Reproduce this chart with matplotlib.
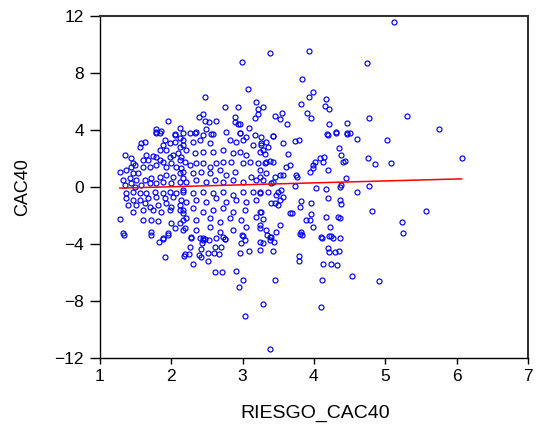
import numpy as np
import matplotlib
matplotlib.use("Agg")
import matplotlib.pyplot as plt

# scatter points: (RIESGO_CAC40, CAC40)
pts_top = [
    (2.48, 6.29), (2.75, 5.64), (1.95, 4.61), (2.45, 5.10), (2.39, 4.89),
    (2.48, 4.63), (2.53, 4.54), (2.63, 4.63), (2.12, 4.14), (1.79, 4.07),
    (1.85, 3.93), (1.78, 3.79), (2.05, 3.74), (2.34, 3.81), (2.49, 4.07),
    (2.58, 3.74), (2.99, 8.80), (3.38, 9.43), (3.93, 9.52), (3.84, 7.60),
    (3.08, 6.85), (3.99, 6.69), (3.93, 6.34), (4.17, 6.18), (3.19, 5.96),
    (3.82, 5.80), (4.15, 5.71), (4.21, 5.45), (2.93, 5.61), (3.21, 5.49),
    (3.28, 5.61), (3.22, 5.12), (3.18, 4.82), (2.89, 4.93), (2.89, 4.58),
    (2.94, 4.44), (2.97, 4.42), (3.46, 4.98), (3.56, 5.17), (3.53, 4.79),
    (3.63, 4.42), (3.90, 5.19), (3.96, 4.82), (4.21, 4.44), (4.46, 4.47),
    (3.09, 4.14), (2.97, 3.77), (3.43, 3.60), (4.19, 3.70), (4.31, 3.84),
    (4.46, 3.79), (4.50, 3.79), (5.13, 11.56), (4.74, 8.68), (4.77, 4.86),
    (5.30, 4.96), (5.76, 4.09),
]
pts_right = [
    (4.60, 3.37), (5.02, 3.27), (6.07, 2.06), (4.76, 2.01), (4.85, 1.59),
    (5.08, 1.68), (4.43, 1.82), (4.45, 0.61), (4.60, -0.33), (4.77, 0.07),
    (4.82, -1.66), (5.57, -1.68), (5.24, -2.46), (5.25, -3.21),
    (4.54, -6.27), (4.91, -6.57),
]
pts_bottom = [
    (3.38, -11.39), (3.04, -9.05), (3.29, -8.21), (4.10, -8.40), (2.95, -7.04),
    (3.00, -6.50), (3.46, -6.50), (4.12, -6.53), (2.91, -5.89), (3.79, -4.82),
    (3.79, -5.19), (4.13, -5.40), (4.24, -5.40), (4.32, -5.47), (4.20, -4.26),
    (4.21, -4.54), (4.30, -4.58), (4.35, -4.49), (2.96, -4.61), (3.09, -4.47),
    (3.25, -4.42), (3.43, -4.51), (2.98, -3.95), (3.04, -3.70), (3.24, -3.86),
    (3.28, -3.93), (3.39, -3.72), (3.40, -3.51), (3.44, -3.86), (3.34, -3.37),
    (2.99, -3.37), (2.76, -3.63), (3.83, -3.37), (4.12, -3.60), (4.21, -3.44),
    (4.27, -3.58), (1.91, -4.89), (2.62, -5.96), (2.71, -5.96), (2.31, -5.38),
    (2.52, -5.21), (2.18, -4.82), (2.19, -4.72), (2.25, -4.68), (2.39, -4.77),
    (2.42, -4.93), (2.51, -4.65), (2.60, -4.65), (2.67, -4.72), (2.26, -4.23),
    (2.42, -4.35), (2.62, -4.19), (2.70, -4.19), (1.83, -3.84), (1.89, -3.63),
    (2.28, -3.56), (2.41, -3.56), (2.44, -3.70), (2.47, -3.67), (2.53, -3.74),
    (2.43, -3.95), (2.63, -3.56), (2.75, -3.65), (1.34, -3.37), (1.72, -3.37),
    (1.96, -3.37),
]
pts_left = [
    (1.79, 3.88), (1.84, 3.81), (2.05, 3.65), (2.17, 3.77), (1.91, 3.30),
    (2.05, 3.18), (2.12, 3.42), (1.58, 3.06), (1.63, 3.18), (1.56, 2.83),
    (1.89, 2.95), (1.98, 3.06), (1.84, 2.60), (1.93, 2.60), (2.12, 2.83),
    (2.17, 2.95), (1.35, 2.25), (1.44, 2.01), (1.47, 1.66), (1.44, 1.43),
    (1.49, 1.54), (1.65, 2.25), (1.75, 2.18), (1.68, 1.89), (1.61, 1.89),
    (1.79, 2.13), (1.84, 1.89), (1.89, 1.78), (1.98, 2.13), (2.03, 2.25),
    (2.10, 2.36), (2.14, 2.13), (2.12, 1.89), (1.28, 1.03), (1.37, 1.19),
    (1.47, 0.96), (1.54, 1.01), (1.61, 1.43), (1.70, 1.43), (1.79, 1.54),
    (1.93, 1.43), (2.00, 1.66), (2.07, 1.43), (2.14, 1.31), (1.33, 0.49),
    (1.42, 0.61), (1.51, 0.49), (1.63, 0.49), (1.72, 0.61), (1.84, 0.73),
    (1.93, 0.84), (2.03, 0.73), (2.12, 0.96), (2.17, 0.61), (1.35, 0.14),
    (1.44, 0.26), (1.49, 0.02), (1.58, 0.14), (1.70, 0.26), (1.79, 0.26),
    (1.89, 0.37), (2.00, 0.26), (2.12, 0.37), (1.37, -0.44), (1.47, -0.33),
    (1.56, -0.44), (1.65, -0.40), (1.77, -0.33), (1.89, -0.44), (1.98, -0.33),
    (2.07, -0.44), (2.17, -0.21), (1.37, -0.80), (1.47, -0.91), (1.56, -0.91),
    (1.68, -0.80), (1.79, -0.68), (1.91, -0.80), (2.03, -0.68), (2.14, -0.91),
    (1.40, -1.26), (1.51, -1.26), (1.63, -1.15), (1.70, -1.38), (1.82, -1.26),
    (1.93, -1.15), (2.00, -1.38), (2.12, -1.26), (1.47, -1.73), (1.61, -1.61),
    (1.75, -1.61), (1.86, -1.73), (1.98, -1.61), (2.12, -1.61), (2.17, -1.85),
    (1.28, -2.27), (1.61, -2.32), (1.72, -2.32), (1.82, -2.36), (2.00, -2.50),
    (2.12, -2.55), (2.17, -2.32), (1.33, -3.25), (1.72, -3.13), (1.89, -3.60),
    (1.96, -3.25), (2.05, -2.90), (2.17, -3.02),
]
pts_mid = [
    (2.26, 3.77), (2.35, 3.88), (2.45, 3.65), (2.56, 3.72), (2.77, 3.88),
    (2.96, 3.77), (3.05, 3.53), (3.17, 3.65), (3.26, 3.53), (2.17, 3.30),
    (2.31, 3.18), (2.40, 3.30), (2.54, 3.06), (2.82, 3.30), (2.91, 3.18),
    (3.01, 3.30), (3.15, 2.95), (3.26, 3.06), (2.21, 2.60), (2.33, 2.36),
    (2.45, 2.48), (2.59, 2.48), (2.73, 2.60), (2.87, 2.36), (2.96, 2.48),
    (3.05, 2.25), (3.24, 2.48), (2.19, 1.78), (2.26, 1.54), (2.35, 1.66),
    (2.45, 1.66), (2.54, 1.43), (2.63, 1.66), (2.73, 1.78), (2.84, 1.78),
    (3.01, 1.66), (3.10, 1.78), (3.22, 1.66), (2.17, 1.08), (2.31, 0.96),
    (2.42, 1.08), (2.54, 0.96), (2.68, 1.19), (2.77, 0.84), (2.89, 1.08),
    (3.12, 0.73), (3.24, 1.19), (2.21, 0.37), (2.35, 0.49), (2.49, 0.37),
    (2.61, 0.49), (2.73, 0.37), (2.87, 0.49), (3.01, 0.37), (3.19, 0.49),
    (2.17, -0.33), (2.31, -0.44), (2.45, -0.33), (2.59, -0.44), (2.73, -0.33),
    (2.87, -0.56), (3.01, -0.33), (3.15, -0.33), (3.24, -0.44), (2.21, -1.03),
    (2.35, -0.91), (2.49, -1.03), (2.63, -0.80), (2.77, -1.03), (2.91, -0.91),
    (3.05, -1.03), (3.19, -0.91), (2.17, -1.61), (2.31, -1.50), (2.45, -1.73),
    (2.59, -1.61), (2.73, -1.50), (2.87, -1.73), (3.03, -1.61), (3.24, -1.73),
    (2.21, -2.20), (2.35, -2.32), (2.54, -2.20), (2.68, -2.43), (2.82, -2.20),
    (2.98, -2.32), (3.19, -2.08), (2.19, -2.90), (2.35, -3.02), (2.54, -2.78),
    (2.68, -3.13), (2.87, -3.02), (3.05, -2.78), (3.24, -2.90), (2.28, -3.49),
    (2.45, -3.60), (2.73, -3.53), (3.01, -3.44),
]
pts_mid_right = [
    (3.43, 3.58), (3.26, 2.95), (3.33, 3.18), (3.36, 2.83), (3.29, 2.60),
    (3.31, 2.32), (3.57, 3.11), (3.73, 3.23), (3.79, 3.30), (4.20, 3.67),
    (4.31, 3.81), (4.46, 3.72), (4.35, 2.71), (3.64, 2.32), (4.08, 2.04),
    (4.14, 2.13), (4.13, 1.73), (4.01, 1.75), (3.99, 1.54), (4.38, 2.25),
    (4.41, 1.78), (3.33, 1.78), (3.38, 1.85), (3.43, 1.78), (3.31, 1.66),
    (3.61, 1.43), (3.66, 1.54), (3.94, 1.08), (3.99, 1.31), (4.20, 1.19),
    (3.33, 1.01), (3.45, 0.73), (3.52, 0.84), (3.57, 0.84), (3.75, 0.84),
    (3.77, 0.68), (3.24, 0.73), (3.29, 0.49), (3.40, 0.30), (3.43, 0.37),
    (3.73, 0.07), (4.03, -0.09), (4.17, -0.16), (4.36, -0.02), (4.38, 0.14),
    (3.36, -0.33), (3.50, -0.33), (3.54, -0.21), (3.24, -0.33), (3.47, -0.56),
    (3.57, -0.68), (3.52, -0.91), (3.45, -1.15), (3.40, -1.15), (3.50, -1.26),
    (3.82, -0.96), (3.96, -1.10), (4.20, -0.80), (4.36, -0.91), (4.38, -1.19),
    (3.80, -1.43), (3.26, -1.73), (3.66, -1.85), (3.70, -1.85), (3.96, -1.90),
    (3.29, -2.27), (3.89, -2.32), (3.94, -2.32), (4.17, -2.13), (4.36, -2.20),
    (4.34, -2.13), (3.24, -2.67), (3.52, -2.67), (3.99, -2.78), (4.22, -2.83),
    (3.33, -3.02), (3.47, -3.13), (3.82, -3.13), (3.81, -3.30), (3.38, -3.49),
    (4.10, -3.53), (4.24, -3.44), (4.36, -3.60),
]

# fitted regression line (end points)
fit_x = [1.28, 6.07]
fit_y = [-0.08, 0.57]

all_pts = pts_top + pts_right + pts_bottom + pts_left + pts_mid + pts_mid_right
riesgo = np.array([p[0] for p in all_pts])
cac40 = np.array([p[1] for p in all_pts])

plt.rcParams['font.family'] = ['Liberation Sans', 'DejaVu Sans']

fig = plt.figure(figsize=(5.37, 4.28), dpi=100)
ax = fig.add_axes([0.186, 0.1636, 0.797, 0.799])

ax.plot(riesgo, cac40, 'o', markersize=3.6, markerfacecolor='none',
        markeredgecolor='#0000ff', markeredgewidth=0.85, linestyle='none')
ax.plot(fit_x, fit_y, color='#ff0000', linewidth=1.1)

ax.set_xlim(1, 7)
ax.set_ylim(-12, 12)
ax.set_xticks([1, 2, 3, 4, 5, 6, 7])
ax.set_yticks([-12, -8, -4, 0, 4, 8, 12])
ax.tick_params(axis='x', direction='out', length=4.3, width=1, labelsize=12.5,
               pad=3.6, top=False)
ax.tick_params(axis='y', direction='out', length=7, width=1, labelsize=12.5,
               pad=4.5, right=False)

for side in ['left', 'bottom']:
    ax.spines[side].set_color('black')
    ax.spines[side].set_linewidth(1.0)
for side in ['top', 'right']:
    ax.spines[side].set_color('#333333')
    ax.spines[side].set_linewidth(1.5)

ax.set_xlabel('RIESGO_CAC40', fontsize=14, va='center')
ax.xaxis.set_label_coords(0.502, -0.161)
ax.set_ylabel('CAC40', fontsize=13, va='center')
ax.yaxis.set_label_coords(-0.18, 0.5)

plt.savefig('out.png', dpi=100)
